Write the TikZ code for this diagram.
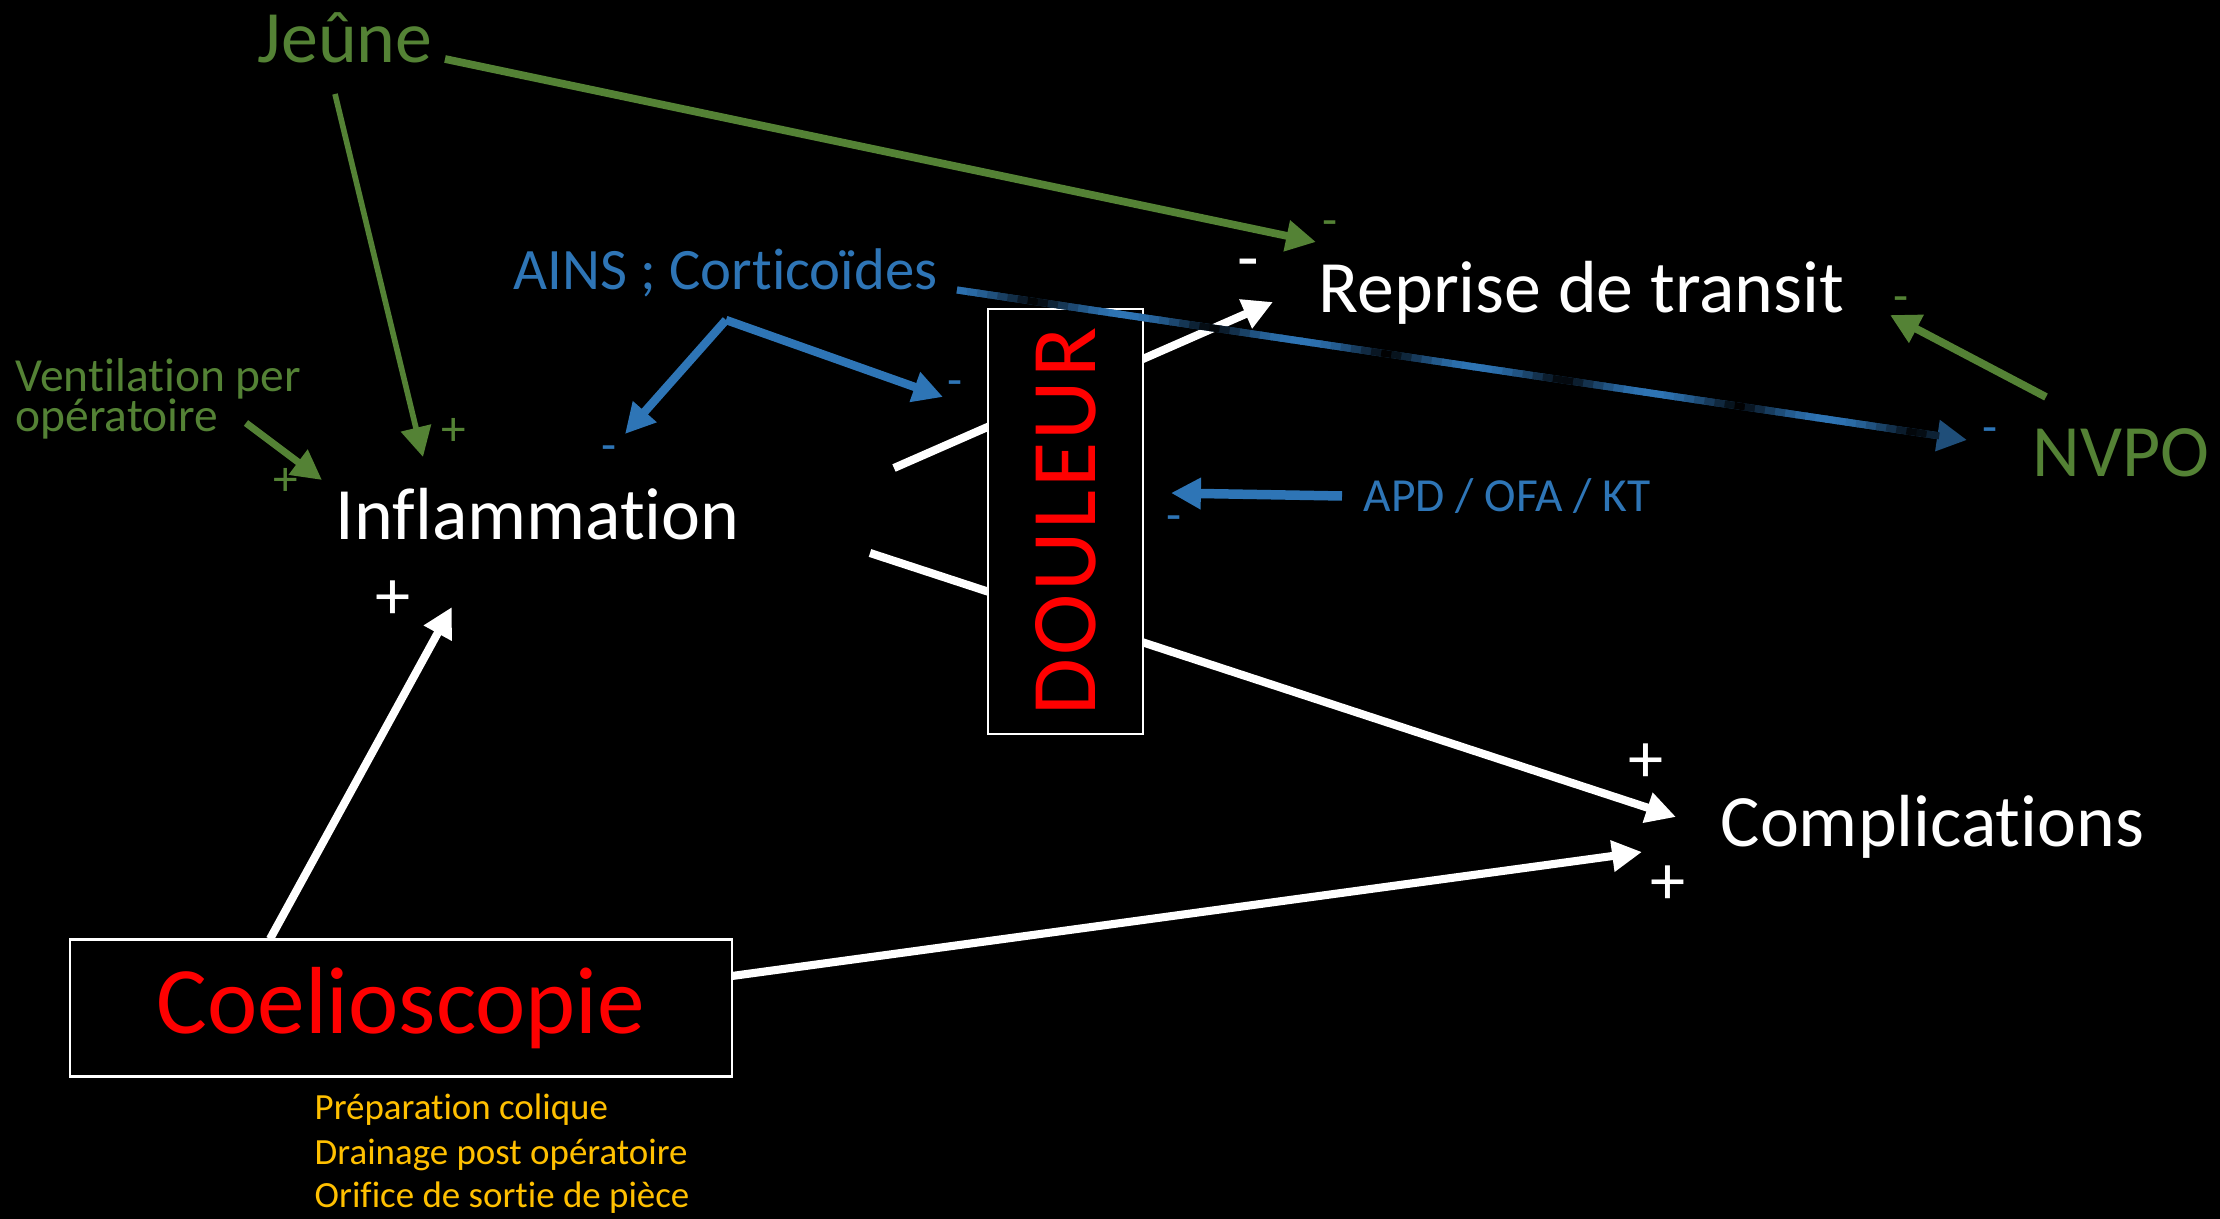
\documentclass[tikz,border=0pt]{standalone}
\usepackage{fontspec}
\setmainfont{Carlito}[Ligatures=NoCommon]
\newfontfamily\douleurfont{Carlito}[Ligatures=NoCommon, LetterSpace=3]
\usetikzlibrary{arrows.meta,calc}
\definecolor{vert}{RGB}{84,130,53}
\definecolor{bleu}{RGB}{46,117,182}
\definecolor{bleufonce}{RGB}{31,78,121}
\definecolor{jaune}{RGB}{255,192,0}
\begin{document}
\begin{tikzpicture}[x=0.01cm, y=-0.01cm,
    txt/.style={inner sep=0pt, anchor=base west},
    main/.style={txt, text=white, font=\fontsize{21}{25}\selectfont},
    side/.style={txt, text=vert, font=\fontsize{21}{25}\selectfont},
    small/.style={txt, text=vert, font=\fontsize{13.5}{16}\selectfont},
    drug/.style={txt, text=bleu, font=\fontsize{13.5}{16}\selectfont},
    note/.style={txt, text=jaune, font=\fontsize{10.5}{13}\selectfont},
    cadre/.style={draw=white, line width=0.6pt, fill=black, inner sep=0pt, text=red},
    sign/.style={inner sep=0pt, font=\fontsize{14}{16}\selectfont},
    bigsign/.style={inner sep=0pt, text=white, font=\fontsize{20}{24}\selectfont},
    fleche/.style={line width=2pt, -{Triangle[length=8.5pt,width=8.5pt]}}]

    % Background
    \fill[black] (0,0) rectangle (2220,1219);
    \useasboundingbox (0,0) rectangle (2220,1219);

    % Labels
    \node[side] (jeune) at (257,63) {Jeûne};
    \node[small, text depth=0pt] (vent) at (15,392) {Ventilation per};
    \node[small] (ventb) at (15,432) {opératoire};
    \node[drug, font=\fontsize{16.7}{20}\selectfont] (ains) at (513,290) {AINS ; Corticoïdes};
    \node[main] (inflam) at (335,540) {Inflammation};
    \node[main] (reprise) at (1318,313) {Reprise de transit};
    \node[side] (nvpo) at (2032,477) {NVPO};
    \node[drug] (apd) at (1363,512) {APD / OFA / KT};
    \node[main] (compli) at (1720,847) {Complications};
    \node[note] (prep) at (314,1120) {Préparation colique};
    \node[note] (drain) at (314,1165) {Drainage post opératoire};
    \node[note] (orif) at (314,1208) {Orifice de sortie de pièce};

    % Arrow ends
    \coordinate (jeune-e) at (445,59);
    \coordinate (jeune-s) at (335,94);
    \coordinate (vent-e) at (246,423);
    \coordinate (ains-s) at (726,320);
    \coordinate (ains-e) at (957,290);
    \coordinate (apd-w) at (1342,496);
    \coordinate (nvpo-n) at (2046,397);
    \coordinate (inflam-e) at (894,468);
    \coordinate (inflam-se) at (870,553);
    \coordinate (coelio-n) at (270,939);
    \coordinate (coelio-e) at (732,976);
    \coordinate (inflam-n) at (423,457);
    \coordinate (inflam-nw) at (322,480);
    \coordinate (inflam-ne) at (625,434);
    \coordinate (inflam-s) at (452,607);
    \coordinate (douleur-w) at (943,397);
    \coordinate (douleur-e) at (1171,493);
    \coordinate (reprise-nw) at (1316,242);
    \coordinate (reprise-w) at (1273,302);
    \coordinate (reprise-e) at (1890,315);
    \coordinate (nvpo-w) at (1967,440);
    \coordinate (compli-nw) at (1676,817);
    \coordinate (compli-w) at (1642,852);

    % White arrows (behind DOULEUR)
    \draw[fleche, white, line width=2.3pt] (inflam-e) -- (reprise-w);
    \draw[fleche, white, line width=2.3pt] (inflam-se) -- (compli-nw);
    \draw[fleche, white, line width=2.3pt] (coelio-n) -- (inflam-s);
    \draw[fleche, white, line width=2.3pt] (coelio-e) -- (compli-w);

    % Boxes
    \node[cadre, rotate=90, minimum width=4.25cm, minimum height=1.55cm,
        font=\douleurfont\fontsize{26.3}{30}\selectfont] (douleur) at (1065.5,521.5) {DOULEUR};
    \node[cadre, minimum width=6.62cm, minimum height=1.37cm,
        font=\fontsize{27.1}{32}\selectfont] (coelio) at (401,1008) {Coelioscopie};

    % Green arrows
    \draw[fleche, vert, line width=2.2pt] (jeune-e) -- (reprise-nw);
    \draw[fleche, vert, line width=1.6pt] (jeune-s) -- (inflam-n);
    \draw[fleche, vert] (vent-e) -- (inflam-nw);
    \draw[fleche, vert, line width=2.2pt] (nvpo-n) -- (reprise-e);

    % Blue arrows
    \draw[fleche, bleu, line width=2.4pt] (ains-s) -- (inflam-ne);
    \draw[fleche, bleu, line width=2.4pt] (ains-s) -- (douleur-w);
    \draw[fleche, bleu, line width=2.7pt] (apd-w) -- (douleur-e);

    % AINS -> NVPO, faded
    \draw[fleche, bleufonce, line width=2pt] (ains-e) -- (nvpo-w);
    \foreach \i in {0,...,96}{
        \pgfmathtruncatemacro\mixval{100*abs(sin((10.1*\i-73)/176*180))}
        \draw[line width=2pt, bleu!\mixval!black]
            ($(ains-e)!\i/100!(nvpo-w)$) -- ($(ains-e)!\i/100+0.0125!(nvpo-w)$);
    }

    % Signs
    \node[sign, text=vert] (p1) at (454,432) {+};
    \node[sign, text=vert] (p2) at (286,482) {+};
    \node[sign, text=bleu] (m1) at (609,454) {-};
    \node[sign, text=bleu] (m2) at (955,389) {-};
    \node[bigsign] (m3) at (1248,270) {-};
    \node[sign, text=vert] (m4) at (1330,229) {-};
    \node[sign, text=vert] (m5) at (1901,305) {-};
    \node[sign, text=bleu] (m6) at (1990,436) {-};
    \node[sign, text=bleu] (m7) at (1174,524) {-};
    \node[bigsign] (p3) at (393,600) {+};
    \node[bigsign] (p4) at (1646,763) {+};
    \node[bigsign] (p5) at (1668,885) {+};
\end{tikzpicture}
\end{document}
